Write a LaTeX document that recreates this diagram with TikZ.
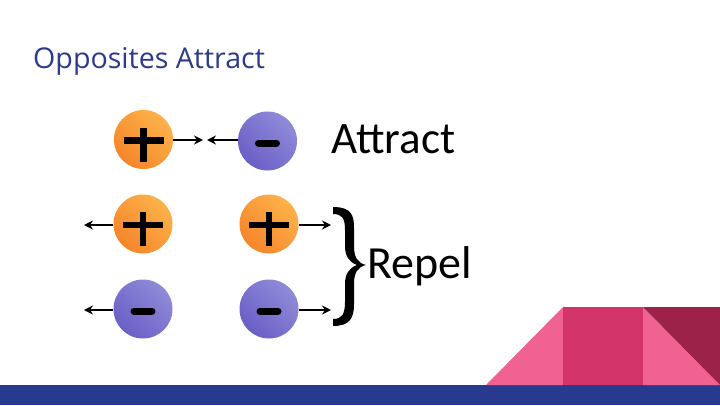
\documentclass[tikz,border=0pt]{standalone}
\usepackage{fontspec}
\setmainfont{Open Sans}
\newfontfamily\calib{Carlito}
\usetikzlibrary{arrows.meta,calc}
\definecolor{titleblue}{HTML}{2B3A8C}
\definecolor{barblue}{HTML}{283A8F}
\definecolor{lpink}{HTML}{F06292}
\definecolor{mpink}{HTML}{D2346A}
\definecolor{dpink}{HTML}{9C224A}
\definecolor{orL}{HTML}{FDB24A}
\definecolor{orD}{HTML}{F5852A}
\definecolor{blL}{HTML}{8F8BD8}
\definecolor{blD}{HTML}{6A5FC6}
\begin{document}
\begin{tikzpicture}[x=1pt,y=-1pt,
  poschg/.style={circle,minimum size=59pt,inner sep=0pt,shading=axis,left color=orL,right color=orD,shading angle=315},
  negchg/.style={circle,minimum size=59pt,inner sep=0pt,shading=axis,left color=blL,right color=blD,shading angle=315},
  signline/.style={line width=6.5pt,black},
  minusbar/.style={line width=7pt,black,line cap=round},
  arr/.style={line width=2.2pt,-{Stealth[length=9pt,width=9pt]}},
  bigtext/.style={font=\calib\fontsize{45}{48}\selectfont,inner sep=0pt,anchor=base west}
]
\useasboundingbox (0,0) rectangle (720,405);
\fill[white] (0,0) rectangle (720,405);
% title
\node[anchor=base west,inner sep=0pt,text=titleblue,font=\fontsize{28.6}{31}\selectfont] (title) at (33,68) {Opposites Attract};
% bottom decoration
\fill[barblue] (0,385) rectangle (720,405);
\fill[lpink] (486,385) -- (563,307) -- (563,385) -- cycle;
\fill[mpink] (563,307) rectangle (643,385);
\fill[lpink] (643,307) -- (720,385) -- (643,385) -- cycle;
\fill[dpink] (643,307) -- (720,307) -- (720,385) -- cycle;
% charges
\node[poschg] (a1) at (143.5,139.5) {};
\node[negchg] (b1) at (267.5,141) {};
\node[poschg] (a2) at (143,224) {};
\node[poschg] (b2) at (269,224) {};
\node[negchg] (a3) at (143,309) {};
\node[negchg] (b3) at (269,309) {};
% signs
\foreach \n in {a1,a2,b2}{
  \draw[signline] ($(\n)+(-20,1)$) -- ($(\n)+(20,1)$);
  \draw[signline] ($(\n)+(0,-12)$) -- ($(\n)+(0,22)$);
}
\foreach \n in {b1,a3,b3}{
  \draw[minusbar] ($(\n)+(-9,2)$) -- ($(\n)+(9,2)$);
}
% arrow ends
\coordinate (t1) at (203,140);
\coordinate (t2) at (207,140);
\coordinate (l2) at (84,225);
\coordinate (r2) at (331,225);
\coordinate (l3) at (84,310);
\coordinate (r3) at (331,310);
\draw[arr] (a1.east |- t1) -- (t1);
\draw[arr] (b1.west |- t2) -- (t2);
\draw[arr] (a2.west |- l2) -- (l2);
\draw[arr] (b2.east |- r2) -- (r2);
\draw[arr] (a3.west |- l3) -- (l3);
\draw[arr] (b3.east |- r3) -- (r3);
% brace
\fill[black] (333,207) .. controls (352,207) and (354,216) .. (354,228)
  -- (354,246) .. controls (354,258) and (358,263) .. (366,265)
  .. controls (358,267) and (354,272) .. (354,284)
  -- (354,304) .. controls (354,318) and (350,326) .. (333,326)
  -- (333,319) .. controls (342,319) and (345,314) .. (345,302)
  -- (345,284) .. controls (345,274) and (349,268) .. (357,265)
  .. controls (349,262) and (345,256) .. (345,246)
  -- (345,230) .. controls (345,218) and (342,214) .. (333,214) -- cycle;
% labels
\node[bigtext] (attract) at (331,153) {Attract};
\node[bigtext,font=\calib\fontsize{46}{50}\selectfont] (repel) at (367,278) {Repel};
\end{tikzpicture}
\end{document}
